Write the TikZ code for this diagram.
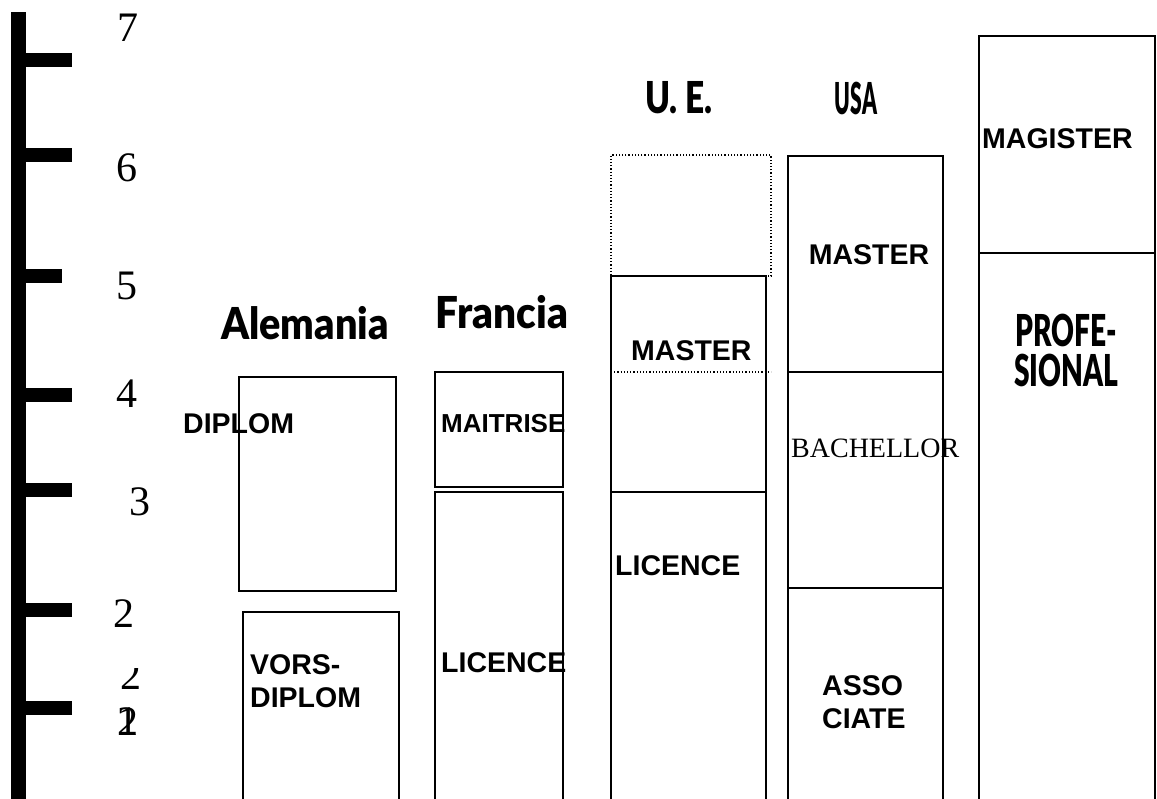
\documentclass[tikz,border=0pt]{standalone}
\usepackage{fontspec}
\setmainfont{Liberation Sans}
\newfontfamily\numfont{Liberation Serif}
\newfontfamily\headfont{Lato Black}
\usetikzlibrary{positioning}
\newcommand{\narrow}[2]{\scalebox{#1}[1]{#2}}
\tikzset{
  lvl/box/.style={draw, line width=2.5pt, inner sep=0pt, outer sep=0pt, anchor=north west},
  lvl/dotbox/.style={lvl/box, line width=1.2pt, dotted},
  lvl/lbl/.style={font=\fontsize{28.5}{33}\selectfont\bfseries, inner sep=0pt, align=left},
  lvl/serif/.style={font=\fontsize{28}{33}\selectfont\numfont, inner sep=0pt},
  lvl/head/.style={font=\fontsize{44}{40}\selectfont\headfont, inner sep=0pt, align=center},
  lvl/num/.style={font=\fontsize{42}{42}\selectfont\numfont, inner sep=0pt},
  lvl/axis/.style={fill=black}
}

\begin{document}
\begin{tikzpicture}[x=1pt, y=-1pt]
  \clip (0,0) rectangle (1157,799);
  \fill[white] (0,0) rectangle (1157,799);

  % scale of levels
  \fill[lvl/axis] (11,12) rectangle (26,799);
  \foreach \yc/\xe in {60/72,155/72,276/62,395/72,490/72,610/72,708/72}
    \fill[lvl/axis] (24,\yc-7) rectangle (\xe,\yc+7);

  \node[lvl/num] (n7) at (128,28) {7};
  \node[lvl/num] (n6) at (127,168) {6};
  \node[lvl/num] (n5) at (127,286) {5};
  \node[lvl/num] (n4) at (127,394) {4};
  \node[lvl/num] (n3) at (140,502) {3};
  \node[lvl/num] (n2) at (124,614) {2};
  \begin{scope}
    \clip (110,668) rectangle (150,695);
    \node[lvl/num] (n2b) at (131,676) {2};
  \end{scope}
  \node[lvl/num] (n2c) at (128,722) {2};
  \node[lvl/num] (n1) at (128,722) {1};

  % country headers
  \node[lvl/head] (hde) at (305,323) {\narrow{0.9}{Alemania}};
  \node[lvl/head] (hfr) at (502,312) {\narrow{0.92}{Francia}};
  \node[lvl/head] (hue) at (679,98) {\narrow{0.76}{U. E.}};
  \node[lvl/head] (hus) at (856,98) {\narrow{0.48}{USA}};

  % Alemania
  \node[lvl/box, minimum width=157pt, minimum height=214pt] (dipbox) at (239,377) {};
  \node[lvl/box, minimum width=156pt, minimum height=220pt] (vorbox) at (243,612) {};
  \node[lvl/lbl, anchor=west] (diptxt) at (183,424) {DIPLOM};
  \node[lvl/lbl, anchor=west] (vortxt) at (250,681) {VORS-\\DIPLOM};

  % Francia
  \node[lvl/box, minimum width=128pt, minimum height=115pt] (maibox) at (435,372) {};
  \node[lvl/box, minimum width=128pt, minimum height=340pt] (licfbox) at (435,492) {};
  \node[lvl/lbl, anchor=west, font=\fontsize{26}{33}\selectfont\bfseries] (maitxt) at (441,424) {MAITRISE};
  \node[lvl/lbl, anchor=west] (licftxt) at (441,663) {LICENCE};

  % U.E.
  \node[lvl/dotbox, minimum width=160pt, minimum height=121pt] (uedot) at (611,155) {};
  \node[lvl/box, minimum width=155pt, minimum height=216pt] (uemas) at (611,276) {};
  \node[lvl/box, minimum width=155pt, minimum height=340pt] (uelic) at (611,492) {};
  \coordinate (uecut) at (771,372);
  \draw[line width=1.2pt, dotted] (uemas.west |- uecut) -- (uecut);
  \node[lvl/lbl, anchor=west] (uemastxt) at (631,351) {MASTER};
  \node[lvl/lbl, anchor=west] (uelictxt) at (615,566) {LICENCE};

  % USA
  \node[lvl/box, minimum width=155pt, minimum height=216pt] (usmas) at (788,156) {};
  \node[lvl/box, minimum width=155pt, minimum height=216pt] (usbac) at (788,372) {};
  \node[lvl/box, minimum width=155pt, minimum height=240pt] (usass) at (788,588) {};
  \node[lvl/lbl] (usmastxt) at (869,255) {MASTER};
  \node[lvl/serif, anchor=west] (usbactxt) at (791,448) {BACHELLOR};
  \node[lvl/lbl, anchor=west] (usasstxt) at (822,702) {ASSO\\CIATE};

  % profesional
  \node[lvl/box, minimum width=176pt, minimum height=217pt] (magbox) at (979,36) {};
  \node[lvl/box, minimum width=176pt, minimum height=580pt] (probox) at (979,253) {};
  \node[lvl/lbl, anchor=west] (magtxt) at (982,139) {MAGISTER};
  \node[lvl/head] (protxt) at (1066,350) {\narrow{0.64}{PROFE-}\\\narrow{0.64}{SIONAL}};
\end{tikzpicture}
\end{document}
